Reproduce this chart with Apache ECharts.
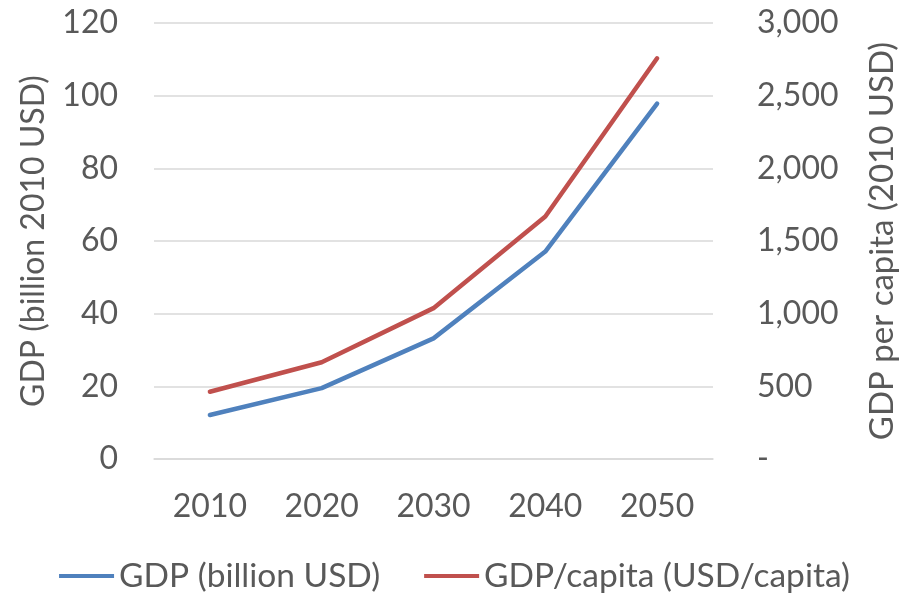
<!DOCTYPE html>
<html>
<head>
<meta charset="utf-8">
<script src="https://cdn.jsdelivr.net/npm/echarts@6/dist/echarts.min.js"></script>
<style>
  html, body { margin: 0; padding: 0; background: #fff; }
  #chart { width: 909px; height: 593px; }
</style>
</head>
<body>
<div id="chart"></div>
<script>
// Projection years and the two GDP series
const years = ['2010', '2020', '2030', '2040', '2050'];
const gdpBillion = [12.1, 19.5, 33.2, 57.1, 97.8];
const gdpPerCapita = [463, 666, 1038, 1669, 2757];

const FONT = 'Lato, "Open Sans", sans-serif';
const TEXT = '#595959';
const GRID = '#d9d9d9';

const chart = echarts.init(document.getElementById('chart'), null, { renderer: 'canvas' });

chart.setOption({
  animation: false,
  textStyle: { fontFamily: FONT, color: TEXT },
  grid: { left: 154, right: 196, top: 23, bottom: 134, containLabel: false },
  legend: {
    top: 554,
    left: 'center',
    icon: 'rect',
    itemWidth: 55,
    itemHeight: 4,
    itemGap: 44,
    textStyle: { fontFamily: FONT, fontSize: 33.5, color: TEXT },
    data: ['GDP (billion USD)', 'GDP/capita (USD/capita)']
  },
  xAxis: {
    type: 'category',
    data: years,
    boundaryGap: true,
    axisLine: { show: true, lineStyle: { color: GRID, width: 1.5 } },
    axisTick: { show: false },
    axisLabel: { fontFamily: FONT, fontSize: 32, color: TEXT, margin: 32 }
  },
  yAxis: [
    {
      type: 'value',
      min: 0, max: 120, interval: 20,
      name: 'GDP (billion 2010 USD)',
      nameLocation: 'middle',
      nameRotate: 90,
      nameGap: 104,
      nameTextStyle: { fontFamily: FONT, fontSize: 32, color: TEXT },
      axisLine: { show: false },
      axisTick: { show: false },
      axisLabel: { fontFamily: FONT, fontSize: 32, color: TEXT, margin: 36 },
      splitLine: { lineStyle: { color: GRID, width: 1.5 } }
    },
    {
      type: 'value',
      position: 'right',
      min: 0, max: 3000, interval: 500,
      name: 'GDP per capita (2010 USD)',
      nameLocation: 'middle',
      nameRotate: 90,
      nameGap: 153,
      nameTextStyle: { fontFamily: FONT, fontSize: 33, color: TEXT },
      axisLine: { show: false },
      axisTick: { show: false },
      splitLine: { show: false },
      axisLabel: {
        fontFamily: FONT, fontSize: 32, color: TEXT, margin: 44, align: 'left',
        formatter: v => v === 0 ? '-' : v.toLocaleString('en-US')
      }
    }
  ],
  series: [
    {
      name: 'GDP (billion USD)',
      type: 'line',
      yAxisIndex: 0,
      data: gdpBillion,
      symbol: 'none',
      lineStyle: { color: '#4f81bd', width: 4.5, cap: 'round', join: 'round' },
      itemStyle: { color: '#4f81bd' }
    },
    {
      name: 'GDP/capita (USD/capita)',
      type: 'line',
      yAxisIndex: 1,
      data: gdpPerCapita,
      symbol: 'none',
      lineStyle: { color: '#c0504d', width: 4.5, cap: 'round', join: 'round' },
      itemStyle: { color: '#c0504d' }
    }
  ]
});
</script>
</body>
</html>
